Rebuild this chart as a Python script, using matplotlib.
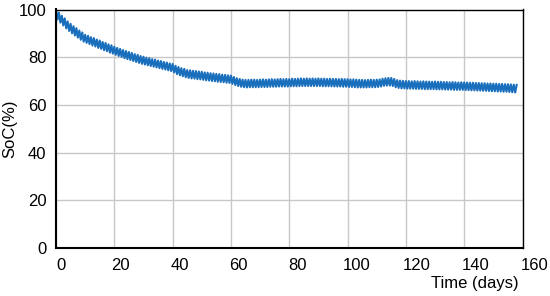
import matplotlib
matplotlib.use("Agg")
import matplotlib.pyplot as plt
import matplotlib.transforms as mtransforms

plt.rcParams['font.family'] = ['Liberation Sans', 'DejaVu Sans']

# Daily peak values (day 0..158) and trough values (day 0.5..157.5)
soc_peak = [
    100.0, 98.7, 97.4, 96.3, 95.0, 94.0, 93.0, 92.2, 91.2, 90.4, 89.4,
    89.0, 88.4, 88.0, 87.4, 87.0, 86.4, 86.0, 85.4, 85.0, 84.4,
    83.9, 83.5, 83.0, 82.6, 82.2, 81.8, 81.3, 81.0, 80.5, 80.2,
    79.8, 79.6, 79.2, 79.0, 78.6, 78.4, 78.0, 77.8, 77.4, 77.2,
    76.4, 75.9, 75.4, 75.1, 74.6, 74.5, 74.3, 74.2, 74.0, 73.9,
    73.6, 73.5, 73.3, 73.2, 73.0, 72.9, 72.7, 72.6, 72.4, 72.3,
    71.7, 71.2, 70.9, 70.6, 70.5, 70.5, 70.6, 70.6, 70.5, 70.6,
    70.7, 70.6, 70.7, 70.8, 70.7, 70.8, 70.9, 70.8, 70.9, 70.8,
    71.0, 70.9, 71.0, 71.1, 71.0, 71.1, 71.0, 71.1, 71.0, 71.1,
    71.0, 71.0, 70.9, 71.0, 70.9, 70.9, 70.8, 70.9, 70.8, 70.8,
    70.7, 70.7, 70.6, 70.5, 70.5, 70.4, 70.5, 70.6, 70.5, 70.6,
    70.7, 71.0, 71.2, 71.3, 71.3, 70.9, 70.4, 70.2, 70.1, 70.0,
    70.0, 69.9, 70.0, 69.9, 69.8, 69.9, 69.8, 69.8, 69.7, 69.8,
    69.7, 69.7, 69.6, 69.6, 69.5, 69.6, 69.5, 69.4, 69.5, 69.4,
    69.4, 69.3, 69.3, 69.2, 69.2, 69.1, 69.1, 69.0, 69.0, 68.9,
    68.9, 68.8, 68.8, 68.7, 68.7, 68.6, 68.5, 68.4,
]
soc_trough = [
    95.8, 94.5, 93.3, 92.1, 91.0, 90.0, 89.1, 88.2, 87.3, 86.5, 86.0,
    85.5, 84.9, 84.5, 83.9, 83.5, 82.9, 82.5, 81.9, 81.5, 81.0,
    80.5, 80.1, 79.6, 79.2, 78.8, 78.4, 78.0, 77.6, 77.2, 76.9,
    76.6, 76.3, 76.0, 75.7, 75.4, 75.1, 74.8, 74.5, 74.2, 73.6,
    72.9, 72.4, 72.0, 71.6, 71.3, 71.1, 71.0, 70.8, 70.7, 70.5,
    70.3, 70.2, 70.0, 69.9, 69.7, 69.6, 69.5, 69.3, 69.2, 68.8,
    68.3, 67.9, 67.6, 67.4, 67.3, 67.4, 67.4, 67.4, 67.4, 67.5,
    67.5, 67.5, 67.6, 67.6, 67.6, 67.7, 67.7, 67.7, 67.7, 67.8,
    67.8, 67.8, 67.9, 67.9, 67.9, 67.9, 67.9, 67.9, 67.9, 67.9,
    67.8, 67.8, 67.8, 67.8, 67.7, 67.7, 67.7, 67.6, 67.6, 67.5,
    67.5, 67.4, 67.3, 67.3, 67.3, 67.3, 67.4, 67.4, 67.4, 67.5,
    67.7, 68.0, 68.1, 68.1, 67.9, 67.4, 67.1, 66.9, 66.9, 66.8,
    66.8, 66.8, 66.7, 66.7, 66.7, 66.6, 66.6, 66.6, 66.6, 66.5,
    66.5, 66.5, 66.4, 66.4, 66.4, 66.3, 66.3, 66.3, 66.3, 66.2,
    66.2, 66.1, 66.1, 66.0, 66.0, 65.9, 65.9, 65.8, 65.7, 65.7,
    65.6, 65.6, 65.5, 65.5, 65.4, 65.3, 65.2,
]
x_ticks = [0, 20, 40, 60, 80, 100, 120, 140, 160]
y_ticks = [0, 20, 40, 60, 80, 100]

# Interleave peaks (at whole days) and troughs (at half days)
t, y = [], []
for d, p in enumerate(soc_peak):
    t.append(d)
    y.append(p)
    if d < len(soc_trough):
        t.append(d + 0.5)
        y.append(soc_trough[d])

fig = plt.figure(figsize=(5.5, 2.96), dpi=100)
ax = fig.add_axes([56 / 550, 1 - 248 / 296, (522.5 - 56) / 550, (248 - 9.5) / 296])
ax.plot(t, y, color='#1a6fbd', lw=1.5)
ax.set_xlim(0, 160)
ax.set_ylim(0, 100)
ax.set_xticks(x_ticks)
ax.set_yticks(y_ticks)
ax.grid(True, color='#c8c8c8', lw=1.0)
ax.set_axisbelow(True)
ax.tick_params(length=0, labelsize=12, pad=7)
for s in ['left', 'bottom']:
    ax.spines[s].set_linewidth(1.5)
for s in ['top', 'right']:
    ax.spines[s].set_linewidth(1.0)
for s in ax.spines.values():
    s.set_color('black')

for k, lab in enumerate(ax.get_xticklabels()):
    off = mtransforms.ScaledTranslation((5 + 0.9 * k) / 100, 0, fig.dpi_scale_trans)
    lab.set_transform(lab.get_transform() + off)

fig.text(10 / 550, 1 - 129 / 296, 'SoC(%)', fontsize=12, rotation=90,
         ha='center', va='center')
fig.text(519 / 550, 1 - 283.5 / 296, 'Time (days)', fontsize=12,
         ha='right', va='center')

fig.savefig('out.png', dpi=100)
